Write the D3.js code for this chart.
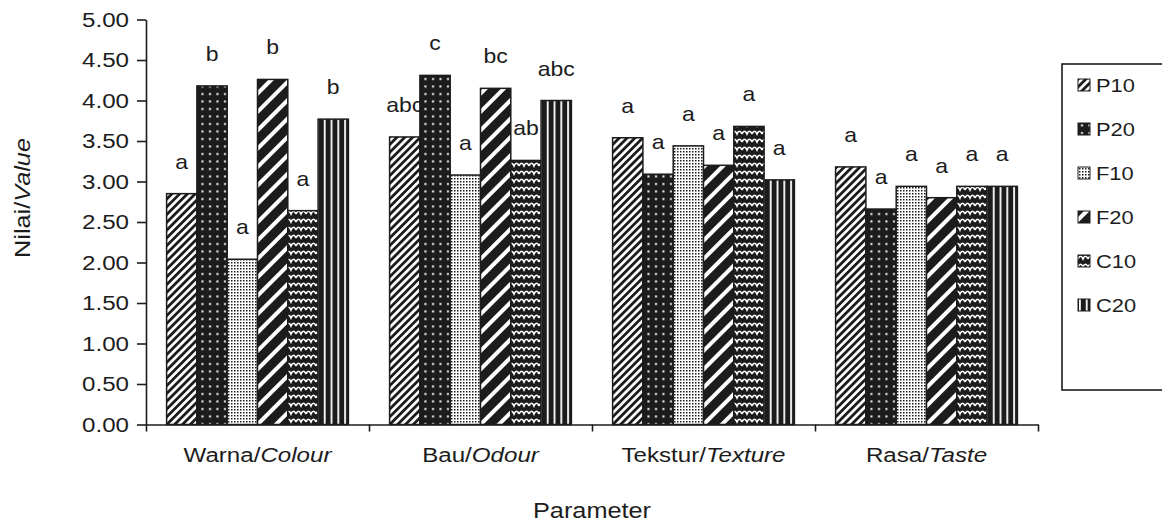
<!DOCTYPE html>
<html>
<head>
<meta charset="utf-8">
<script src="https://cdn.jsdelivr.net/npm/d3@7"></script>
<style>
body { margin: 0; background: #fff; }
text { font-family: "Liberation Sans", Arial, sans-serif; fill: #1c1c1c; }
</style>
</head>
<body>
<svg id="chart"></svg>
<script>
// data
var categories = ["Warna", "Bau", "Tekstur", "Rasa"];
var categoriesEn = ["Colour", "Odour", "Texture", "Taste"];
var series = ["P10", "P20", "F10", "F20", "C10", "C20"];

var valP10 = [2.85, 3.55, 3.54, 3.18];
var valP20 = [4.18, 4.31, 3.09, 2.66];
var valF10 = [2.04, 3.08, 3.44, 2.94];
var valF20 = [4.26, 4.15, 3.20, 2.80];
var valC10 = [2.64, 3.26, 3.68, 2.94];
var valC20 = [3.77, 4.00, 3.02, 2.94];

var letP10 = ["a", "abc", "a", "a"];
var letP20 = ["b", "c", "a", "a"];
var letF10 = ["a", "a", "a", "a"];
var letF20 = ["b", "bc", "a", "a"];
var letC10 = ["a", "ab", "a", "a"];
var letC20 = ["b", "abc", "a", "a"];

var yTicks = [0, 0.5, 1, 1.5, 2, 2.5, 3, 3.5, 4, 4.5, 5];

var values = { P10: valP10, P20: valP20, F10: valF10, F20: valF20, C10: valC10, C20: valC20 };
var letters = { P10: letP10, P20: letP20, F10: letF10, F20: letF20, C10: letC10, C20: letC20 };

var ink = "#1c1c1c";
var W = 1162, H = 524;
var sx = 1.15; // the scanned type is a bit wider than Arial

var svg = d3.select("#chart").attr("width", W).attr("height", H);
var defs = svg.append("defs");

// widen text horizontally around its own anchor point
var stretch = function(sel) {
	sel.each(function() {
		var t = d3.select(this);
		var x = +t.attr("x") || 0;
		var yy = +t.attr("y") || 0;
		t.attr("x", 0).attr("y", 0)
			.attr("transform", "translate(" + x + "," + yy + ") scale(" + sx + ",1)");
	});
};

// ---- fill patterns (one per series)
var addPattern = function(id, w, h, bg, transform) {
	var p = defs.append("pattern")
		.attr("id", id)
		.attr("patternUnits", "userSpaceOnUse")
		.attr("width", w).attr("height", h);
	if (transform) p.attr("patternTransform", transform);
	p.append("rect").attr("width", w).attr("height", h).attr("fill", bg);
	return p;
};

// P10 fine diagonal hatching
addPattern("pat-P10", 5.5, 5.5, "#fff", "rotate(45)")
	.append("rect").attr("width", 2.8).attr("height", 5.5).attr("fill", ink);

// P20 black with sparse white dots
addPattern("pat-P20", 7.5, 7.5, ink)
	.append("rect").attr("x", 3).attr("y", 3).attr("width", 2).attr("height", 2).attr("fill", "#fff");

// F10 dense fine dots
addPattern("pat-F10", 3, 3, "#fff")
	.append("rect").attr("x", 1).attr("y", 1).attr("width", 1.5).attr("height", 1.5).attr("fill", ink);

// F20 wide diagonal, mostly black
addPattern("pat-F20", 13, 13, ink, "rotate(45)")
	.append("rect").attr("width", 4).attr("height", 13).attr("fill", "#fff");

// C10 wave lines
addPattern("pat-C10", 10, 8, ink)
	.append("path")
	.attr("d", "M0,6 Q2.5,0.5 5,6 Q7.5,0.5 10,6")
	.attr("fill", "none").attr("stroke", "#fff").attr("stroke-width", 1.7);

// C20 vertical stripes
addPattern("pat-C20", 6.8, 6.8, ink)
	.append("rect").attr("x", 1).attr("width", 1.8).attr("height", 6.8).attr("fill", "#fff");

// ---- scales
var x0 = d3.scaleBand()
	.domain(categories)
	.range([146, 1038])
	.padding(0);

var x1 = d3.scaleBand()
	.domain(series)
	.range([0, x0.bandwidth()])
	.paddingInner(0)
	.paddingOuter(0.68);

var y = d3.scaleLinear()
	.domain([0, 5])
	.range([424.5, 19.5]);

// ---- axes
var yAxis = d3.axisLeft(y)
	.tickValues(yTicks)
	.tickFormat(d3.format(".2f"))
	.tickSize(9)
	.tickSizeOuter(0)
	.tickPadding(8);

var gy = svg.append("g")
	.attr("transform", "translate(146,0)")
	.call(yAxis);
gy.selectAll("path, line").attr("stroke", ink).attr("stroke-width", 1.6);
gy.selectAll("text").style("font-size", "21px").attr("fill", ink).call(stretch);

var xEdge = d3.scaleLinear().domain([0, categories.length]).range(x0.range());
var xAxis = d3.axisBottom(xEdge)
	.tickValues(d3.range(categories.length + 1))
	.tickFormat("")
	.tickSize(7)
	.tickSizeOuter(0);

var gx = svg.append("g")
	.attr("transform", "translate(0," + y(0) + ")")
	.call(xAxis);
gx.selectAll("path, line").attr("stroke", ink).attr("stroke-width", 1.6);

// ---- bars
var rowsFor = function(c, i) {
	return series.map(function(s) { return { s: s, v: values[s][i], l: letters[s][i] }; });
};

var groups = svg.append("g").selectAll("g")
	.data(categories)
	.enter().append("g")
	.attr("transform", function(d) { return "translate(" + x0(d) + ",0)"; });

groups.selectAll("rect")
	.data(rowsFor)
	.enter().append("rect")
	.attr("x", function(d) { return x1(d.s); })
	.attr("y", function(d) { return y(d.v); })
	.attr("width", x1.bandwidth())
	.attr("height", function(d) { return y(0) - y(d.v); })
	.attr("fill", function(d) { return "url(#pat-" + d.s + ")"; })
	.attr("stroke", ink)
	.attr("stroke-width", 1.5);

groups.selectAll("text.sig")
	.data(rowsFor)
	.enter().append("text")
	.attr("class", "sig")
	.attr("x", function(d) { return x1(d.s) + x1.bandwidth() / 2; })
	.attr("y", function(d) { return y(d.v) - 25; })
	.attr("text-anchor", "middle")
	.style("font-size", "20px")
	.text(function(d) { return d.l; })
	.call(stretch);

// ---- category labels
var catLabels = svg.append("g").selectAll("text")
	.data(categories)
	.enter().append("text")
	.attr("x", function(d) { return x0(d) + x0.bandwidth() / 2; })
	.attr("y", 462)
	.attr("text-anchor", "middle")
	.style("font-size", "21px");
catLabels.append("tspan").text(function(d) { return d + "/"; });
catLabels.append("tspan")
	.style("font-style", "italic")
	.text(function(d, i) { return categoriesEn[i]; });
catLabels.call(stretch);

// ---- axis titles
svg.append("text")
	.attr("x", 592)
	.attr("y", 518)
	.attr("text-anchor", "middle")
	.style("font-size", "22px")
	.text("Parameter")
	.call(stretch);

var yTitle = svg.append("text")
	.attr("transform", "translate(30,198) rotate(-90) scale(" + sx + ",1)")
	.attr("text-anchor", "middle")
	.style("font-size", "22px");
yTitle.append("tspan").text("Nilai/");
yTitle.append("tspan").style("font-style", "italic").text("Value");

// ---- legend
var legend = svg.append("g").attr("transform", "translate(1062,64)");
legend.append("rect")
	.attr("width", 120).attr("height", 326)
	.attr("fill", "#fff")
	.attr("stroke", ink).attr("stroke-width", 1.6);

var items = legend.selectAll("g.item")
	.data(series)
	.enter().append("g")
	.attr("class", "item")
	.attr("transform", function(d, i) { return "translate(16," + (21 + i * 44) + ")"; });

items.append("rect")
	.attr("y", -6)
	.attr("width", 12).attr("height", 12)
	.attr("fill", function(d) { return "url(#pat-" + d + ")"; })
	.attr("stroke", ink).attr("stroke-width", 1);

items.append("text")
	.attr("x", 18)
	.attr("y", 7)
	.style("font-size", "19px")
	.text(function(d) { return d; })
	.call(stretch);
</script>
</body>
</html>
